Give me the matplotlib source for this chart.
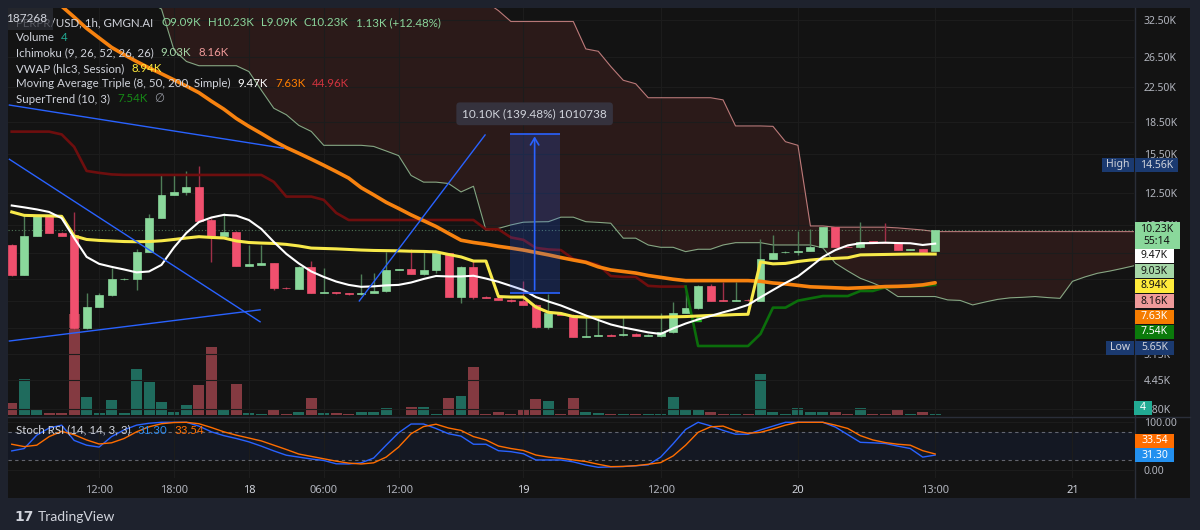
import numpy as np
import matplotlib
matplotlib.use('Agg')
import matplotlib.pyplot as plt
from matplotlib.patches import Rectangle
from matplotlib.lines import Line2D
from matplotlib.ticker import FixedLocator, NullLocator, FuncFormatter

plt.rcParams['font.family'] = ['Noto Sans', 'DejaVu Sans']

# -----------------------------
# Data (prices in K USD, one value per 1h bar)
# -----------------------------
opens = [9.40, 7.97, 9.90, 11.10, 10.06, 9.92, 5.94, 6.69, 7.13, 7.78,
         7.78, 9.06, 10.90, 12.41, 12.60, 12.94, 10.78, 9.88, 10.12, 8.37,
         8.43, 8.50, 7.42, 7.38, 8.31, 7.22, 7.24, 7.20, 7.16, 7.22,
         7.28, 8.19, 8.22, 8.00, 8.19, 8.98, 7.07, 8.33, 7.06, 7.02,
         6.95, 6.88, 6.75, 5.97, 6.47, 6.40, 5.65, 5.70, 5.72, 5.72,
         5.75, 5.69, 5.68, 5.80, 6.47, 6.63, 7.50, 6.93, 6.91, 6.94,
         6.91, 8.70, 9.02, 9.06, 9.09, 9.28, 10.37, 9.31, 9.28, 9.60,
         9.52, 9.50, 9.16, 9.19, 9.09]
highs = [9.45, 11.10, 11.12, 11.12, 10.08, 11.30, 7.20, 7.20, 8.27, 7.82,
         9.20, 11.14, 13.81, 13.94, 14.14, 14.56, 10.90, 11.20, 10.14, 9.40,
         9.40, 8.52, 7.44, 8.35, 8.60, 8.26, 7.26, 7.22, 8.00, 8.05,
         9.06, 8.24, 9.20, 9.06, 9.00, 9.00, 8.35, 8.64, 7.08, 7.04,
         6.97, 7.71, 6.77, 7.18, 6.49, 6.42, 6.34, 6.34, 5.74, 6.33,
         5.77, 5.74, 6.46, 6.85, 7.29, 7.52, 7.57, 7.68, 7.68, 6.96,
         9.70, 9.92, 9.08, 10.17, 10.25, 10.39, 10.39, 9.33, 10.66, 9.62,
         10.60, 9.52, 9.21, 9.21, 10.23]
lows = [7.90, 7.95, 9.88, 10.06, 9.88, 5.88, 5.92, 6.67, 7.10, 7.75,
        7.33, 9.05, 10.88, 12.38, 12.41, 10.75, 8.57, 9.86, 8.37, 8.35,
        8.41, 7.33, 7.38, 7.36, 7.20, 7.20, 7.18, 7.14, 7.14, 7.20,
        7.26, 8.17, 8.00, 7.98, 8.05, 7.05, 6.83, 6.98, 7.00, 6.93,
        6.86, 6.73, 5.95, 5.92, 6.38, 5.65, 5.64, 5.68, 5.68, 5.70,
        5.67, 5.67, 5.66, 5.78, 6.45, 6.61, 6.89, 6.89, 6.89, 6.90,
        6.89, 8.68, 9.00, 8.90, 9.07, 9.26, 9.29, 9.28, 9.26, 9.48,
        9.48, 9.12, 9.14, 9.04, 9.09]
closes = [7.97, 9.90, 11.10, 10.06, 9.90, 5.94, 6.69, 7.13, 7.78, 7.80,
          9.06, 10.90, 12.41, 12.60, 12.94, 10.75, 9.88, 10.12, 8.37, 8.45,
          8.50, 7.40, 7.40, 8.33, 7.22, 7.24, 7.20, 7.16, 7.22, 7.28,
          8.19, 8.22, 8.00, 8.19, 8.98, 7.07, 8.33, 7.05, 7.02, 6.95,
          6.88, 6.75, 5.97, 6.47, 6.40, 5.65, 5.70, 5.72, 5.70, 5.75,
          5.69, 5.72, 5.80, 6.47, 6.65, 7.50, 6.91, 6.91, 6.94, 6.92,
          8.70, 9.01, 9.06, 9.09, 9.31, 10.37, 9.31, 9.30, 9.57, 9.50,
          9.50, 9.14, 9.19, 9.06, 10.23]
volume = [32, 97, 14, 5, 5, 273, 49, 5, 41, 5,
          124, 89, 35, 7, 27, 81, 184, 16, 84, 5,
          4, 16, 3, 8, 46, 5, 5, 3, 7, 7,
          19, 1, 22, 22, 4, 46, 51, 130, 3, 8,
          4, 14, 43, 38, 3, 46, 7, 5, 3, 4,
          4, 3, 4, 49, 16, 16, 8, 4, 4, 3,
          111, 8, 3, 19, 8, 8, 8, 3, 19, 4,
          4, 16, 3, 8, 4]

ma8 = [11.69, 11.57, 11.44, 11.28, 10.90, 9.77, 8.80, 8.47, 8.33, 8.21,
       8.08, 8.12, 8.42, 9.27, 10.05, 10.67, 10.94, 11.10, 11.05, 10.79,
       10.27, 9.56, 8.95, 8.49, 8.12, 7.88, 7.68, 7.54, 7.46, 7.48,
       7.52, 7.54, 7.64, 7.79, 7.92, 7.90, 7.90, 7.93, 7.81, 7.67,
       7.50, 7.33, 7.05, 6.88, 6.73, 6.55, 6.37, 6.21, 6.06, 5.96,
       5.88, 5.80, 5.75, 5.93, 6.09, 6.23, 6.35, 6.48, 6.60, 6.75,
       7.04, 7.33, 7.62, 7.90, 8.33, 8.80, 9.14, 9.38, 9.49, 9.50,
       9.52, 9.50, 9.49, 9.40, 9.47]
ma50 = [44.6, 42.1, 39.6, 37.3, 35.15, 33.1, 31.1, 29.5, 28.0, 26.9,
        25.9, 25.0, 24.2, 23.4, 22.6, 21.8, 20.8, 19.9, 18.9, 18.1,
        17.4, 16.7, 16.1, 15.6, 15.1, 14.6, 14.1, 13.6, 12.9, 12.4,
        11.9, 11.5, 11.1, 10.75, 10.41, 10.02, 9.65, 9.53, 9.44, 9.33,
        9.24, 9.14, 9.02, 8.90, 8.77, 8.65, 8.54, 8.33, 8.19, 8.12,
        8.05, 7.94, 7.86, 7.78, 7.72, 7.72, 7.72, 7.72, 7.72, 7.72,
        7.69, 7.62, 7.58, 7.52, 7.46, 7.44, 7.42, 7.40, 7.42, 7.44,
        7.47, 7.48, 7.50, 7.54, 7.63]
vwap = [11.28, 11.07, 11.05, 11.04, 11.01, 9.88, 9.69, 9.64, 9.61, 9.58,
        9.57, 9.58, 9.62, 9.69, 9.77, 9.84, 9.80, 9.77, 9.61, 9.53,
        9.50, 9.48, 9.43, 9.35, 9.24, 9.22, 9.20, 9.17, 9.14, 9.12,
        9.11, 9.10, 9.08, 9.07, 9.05, 8.92, 8.80, 8.60, 8.60, 7.07,
        7.05, 7.05, 6.67, 6.48, 6.44, 6.33, 6.31, 6.31, 6.31, 6.31,
        6.31, 6.31, 6.31, 6.32, 6.33, 6.35, 6.37, 6.38, 6.40, 6.41,
        8.56, 8.47, 8.49, 8.58, 8.65, 8.70, 8.73, 8.76, 8.90, 8.91,
        8.92, 8.93, 8.94, 8.94, 8.94]
# SuperTrend: down leg for bars 0-54, up leg for bars 54-74
st_down = [17.58, 17.58, 17.58, 17.58, 17.31, 16.16, 14.15, 14.0, 13.88, 13.84,
           13.84, 13.84, 13.84, 13.84, 13.84, 13.84, 13.84, 13.84, 13.84, 13.84,
           13.84, 13.32, 12.28, 12.28, 12.28, 12.06, 11.22, 10.79, 10.79, 10.79,
           10.79, 10.79, 10.79, 10.79, 10.79, 10.79, 10.79, 10.79, 10.25, 10.25,
           9.80, 9.67, 9.25, 9.17, 9.14, 8.70, 8.58, 8.42, 7.92, 7.88,
           7.88, 7.50, 7.47, 7.47, 7.47]
st_up_start = 54
st_up = [7.47, 5.38, 5.38, 5.38, 5.38, 5.38, 5.75, 6.65, 6.65, 6.91,
         7.00, 7.09, 7.09, 7.09, 7.29, 7.29, 7.44, 7.46, 7.48, 7.50, 7.54]
st_buy = (55, 6.28)

# Ichimoku leading spans (already shifted forward), bars 11..90
cloud_start = 11
span_a = [36.0, 34.6, 27.6, 25.9, 25.3, 25.3, 25.3, 25.3, 24.5, 22.1,
          20.0, 19.3, 18.2, 17.6, 16.3, 16.3, 16.3, 16.3, 16.2, 15.8,
          15.4, 13.8, 13.3, 13.3, 13.2, 12.6, 13.0, 10.2, 10.3, 10.5,
          10.66, 10.68, 10.69, 10.96, 10.96, 10.69, 10.65, 10.6, 9.76, 9.76,
          9.40, 9.28, 9.28, 9.06, 9.18, 9.18, 9.40, 9.52, 9.52, 9.52,
          9.40, 9.40, 9.40, 9.40, 9.25, 8.50, 8.14, 7.82, 7.62, 7.40,
          7.07, 7.07, 7.07, 7.07, 6.94, 6.92, 6.75, 6.86, 6.96, 7.02,
          7.04, 7.07, 7.03, 7.00, 7.69, 7.88, 8.04, 8.14, 8.26, 8.39]
span_b = [36.0] * 28 + [
          34.3, 32.3, 32.3, 32.3, 32.3, 32.3, 32.3, 27.76, 27.4, 25.2,
          23.35, 22.9, 21.2, 21.2, 21.2, 21.2, 21.2, 21.2, 20.95, 18.14,
          18.14, 18.14, 18.1, 16.63, 16.3, 10.44, 10.44, 10.37, 10.37, 10.37,
          10.37, 10.37, 10.33, 10.27, 10.21, 10.12] + [10.12] * 16

stoch_k = [40, 45, 73, 88, 94, 62, 52, 48, 70, 84,
           94, 98, 100, 100, 100, 92, 80, 72, 66, 59,
           50, 40, 31, 27, 23, 20, 13, 12.6, 15, 25,
           52, 78, 96.4, 96.4, 87, 76, 71, 54, 54, 40.4,
           38.4, 34, 21, 21, 21, 17, 10.4, 5.6, 6.5, 7.2,
           8.9, 10.8, 27, 55, 85, 100, 92.5, 83, 75, 75,
           84, 92, 100, 100, 100, 100, 90, 74, 58, 57,
           55.5, 50, 45, 27, 31.3]
stoch_d = [54, 49, 52, 70, 81, 74, 63, 54.5, 57, 66,
           80, 90.5, 97, 99.5, 100, 97, 89, 80, 73, 67,
           61, 52, 43, 33.5, 28.5, 23.5, 18.5, 14.5, 12.6, 15,
           27, 48, 76, 91, 96, 88, 83, 70, 63, 50.3,
           45, 41, 31.4, 27, 24.5, 21, 17.7, 12, 7, 7.5,
           9, 12, 15.5, 29.5, 52, 79, 90.5, 92, 82, 77,
           79, 86, 94, 100, 100, 100, 94, 87, 72, 63,
           57.5, 54, 52, 40.5, 33.54]

# user drawings: (bar, price) anchors
trend_lines = [((-0.19, 20.36), (21.76, 16.04)),
               ((-0.19, 15.09), (19.9, 6.15)),
               ((-0.19, 5.53), (19.9, 6.57)),
               ((27.85, 6.90), (37.93, 17.26))]
measure_bars = (39.9, 43.9)
measure_prices = (7.22, 17.39)
measure_label = "10.10K (139.48%) 1010738"
measure_label_price = 19.4

price_ticks = [32.5, 26.5, 22.5, 18.5, 15.5, 12.5, 10.5, 9.0, 7.8, 6.9, 5.95, 5.15, 4.45, 3.8]
hidden_ticks = [9.0, 7.8, 6.9, 5.95]   # covered by the value labels on the scale
tick_bars = [7, 13, 19, 25, 31, 41, 52, 63, 74, 85]
tick_labels = ['12:00', '18:00', '18', '06:00', '12:00', '19', '12:00', '20', '13:00', '21']
day_labels = {'18', '19', '20', '21'}

# -----------------------------
# Figure / layout
# -----------------------------
W, H = 1200, 530
BG = '#131313'
FRAME = '#1e222d'
GRID = '#1c1c1c'
TXT = '#d1d4dc'
AXT = '#b2b5be'
UP, DOWN = '#8ad89b', '#f0506e'
LEGEND_FONT = ['Lato', 'DejaVu Sans']


def fx(x):
    return x / W


def fy(y):
    return 1 - y / H


fig = plt.figure(figsize=(W / 100, H / 100), dpi=100, facecolor=FRAME)
fig.add_artist(Rectangle((fx(8), fy(498)), (1190 - 8) / W, (498 - 8) / H,
                         transform=fig.transFigure, facecolor=BG, edgecolor='none', zorder=-5))

bars = np.arange(len(closes))
o, h, l, c = map(np.array, (opens, highs, lows, closes))
up = c >= o
XLIM = (-0.3, 89.93)
main_rect = [fx(8), fy(415), 1126 / W, 407 / H]

# volume (own axis behind price pane)
axv = fig.add_axes(main_rect, zorder=0)
axv.axis('off')
axv.set_xlim(*XLIM)
axv.set_ylim(0, 1100)
axv.bar(bars, volume, width=0.88, color=np.where(up, '#1f6b5d', '#843a41'), lw=0)

ax = fig.add_axes(main_rect, zorder=1)
ax.patch.set_visible(False)
for s in ax.spines.values():
    s.set_visible(False)
ax.set_yscale('log')
ax.set_xlim(*XLIM)
ax.set_ylim(3.675, 34.8)
ax.yaxis.set_major_locator(FixedLocator(price_ticks))
ax.yaxis.set_minor_locator(NullLocator())
ax.yaxis.set_major_formatter(FuncFormatter(lambda v, p: '' if v in hidden_ticks else f'{v:.2f}K'))
ax.yaxis.tick_right()
ax.tick_params(axis='y', which='both', length=0, pad=7, labelsize=7.5, labelcolor=AXT)
ax.xaxis.set_major_locator(FixedLocator(tick_bars))
ax.tick_params(axis='x', length=0, labelbottom=False)
ax.grid(True, color=GRID, lw=0.8)

# Ichimoku cloud
cb = np.arange(cloud_start, cloud_start + len(span_a))
ax.fill_between(cb, span_a, span_b, color='#ef5350', alpha=0.11, lw=0, zorder=1)
ax.plot(cb, span_a, color='#a5d6a7', lw=0.8, alpha=0.75, zorder=2)
ax.plot(cb, span_b, color='#ef9a9a', lw=0.8, alpha=0.75, zorder=2)

# current price line
ax.axhline(closes[-1], color=UP, lw=0.8, ls=(0, (1, 2)), alpha=0.5, zorder=2)

# candles
ax.vlines(bars, l, h, colors=np.where(up, '#4f7d57', '#a03048'), lw=1, zorder=3)
ax.bar(bars, np.abs(c - o), bottom=np.minimum(o, c), width=0.64,
       color=np.where(up, UP, DOWN), edgecolor=np.where(up, UP, DOWN), lw=0.5, zorder=4)

# indicators
ax.plot(bars[:len(st_down)], st_down, color='#6e0e0e', lw=1.9, zorder=5)
ax.plot(np.arange(st_up_start, st_up_start + len(st_up)), st_up, color='#0b6e0b', lw=1.9, zorder=5)
ax.plot(*st_buy, marker='^', ms=5, color='#1fae1f', zorder=6)
ax.plot(bars, ma50, color='#f7820f', lw=2.6, zorder=6, solid_capstyle='round')
ax.plot(bars, vwap, color='#f7e94a', lw=2.2, zorder=6)
ax.plot(bars, ma8, color='#ffffff', lw=1.5, zorder=7)

for (b0, p0), (b1, p1) in trend_lines:
    ax.plot([b0, b1], [p0, p1], color='#2962ff', lw=1.0, zorder=7)

# price range measure
mb0, mb1 = measure_bars
mp0, mp1 = measure_prices
mid = (mb0 + mb1) / 2
ax.fill_between([mb0, mb1], mp0, mp1, color='#2962ff', alpha=0.2, lw=0, zorder=7)
ax.hlines([mp0, mp1], mb0, mb1, color='#2962ff', lw=1.2, zorder=8)
ax.annotate('', xy=(mid, mp1), xytext=(mid, mp0),
            arrowprops=dict(arrowstyle='->,head_length=0.5,head_width=0.3', color='#2962ff', lw=1.2),
            zorder=8)
ax.text(mid, measure_label_price, measure_label, ha='center', va='center', fontsize=8.5, color=TXT,
        family=LEGEND_FONT,
        bbox=dict(boxstyle='round,pad=0.5,rounding_size=0.3', fc='#35323d', ec='none'), zorder=9)

# -----------------------------
# Stoch RSI pane
# -----------------------------
axs = fig.add_axes([fx(8), fy(478), 1126 / W, 61 / H])
axs.patch.set_visible(False)
for s in axs.spines.values():
    s.set_visible(False)
axs.set_xlim(*XLIM)
axs.set_ylim(-16.8, 111.1)
axs.axhspan(20, 80, color='#2962ff', alpha=0.07, lw=0)
for lvl in (80, 20):
    axs.axhline(lvl, color='#787b86', lw=0.8, ls=(0, (3, 3)), alpha=0.8)
axs.plot(bars, stoch_k, color='#2962ff', lw=1.0)
axs.plot(bars, stoch_d, color='#ff6d00', lw=1.0)
axs.set_yticks([0, 100])
axs.set_yticklabels(['0.00', '100.00'])
axs.yaxis.tick_right()
axs.tick_params(axis='y', length=0, pad=7, labelsize=7.5, labelcolor=AXT)
axs.set_xticks(tick_bars)
axs.set_xticklabels(tick_labels)
axs.tick_params(axis='x', length=0, pad=5, labelsize=8, labelcolor=AXT)
for t in axs.get_xticklabels():
    if t.get_text() in day_labels:
        t.set_fontweight('bold')
        t.set_color(TXT)
axs.grid(True, color=GRID, lw=0.8)

# separators
fig.add_artist(Line2D([fx(8), fx(1190)], [fy(416.5)] * 2, color='#2a2e39', lw=1))
fig.add_artist(Line2D([fx(1134.5)] * 2, [fy(8), fy(498)], color='#2a2e39', lw=1))

# -----------------------------
# Price scale labels
# -----------------------------
def box(x0, x1, yc, text, bg, fg, h=14, size=7.5):
    fig.add_artist(Rectangle((fx(x0), fy(yc + h / 2)), (x1 - x0) / W, h / H, transform=fig.transFigure,
                             facecolor=bg, edgecolor='none', zorder=5))
    fig.text(fx((x0 + x1) / 2), fy(yc), text, color=fg, ha='center', va='center', fontsize=size, zorder=6)


NAVY = '#1b3a70'
box(1102, 1134, 165, 'High', NAVY, TXT)
box(1135, 1178, 165, '14.56K', NAVY, TXT)
fig.add_artist(Rectangle((fx(1135), fy(249)), 45 / W, 27 / H, transform=fig.transFigure,
                         facecolor=UP, edgecolor='none', zorder=5))
fig.text(fx(1157), fy(229), '10.23K', color='#131313', ha='center', va='center', fontsize=7.5, zorder=6)
fig.text(fx(1157), fy(242), '55:14', color='#131313', ha='center', va='center', fontsize=7.5, zorder=6)
box(1135, 1174, 256, '9.47K', '#ffffff', '#131313')
box(1135, 1174, 271, '9.03K', '#a5d6a7', '#131313')
box(1135, 1174, 286, '8.94K', '#ffeb3b', '#131313')
box(1135, 1174, 301, '8.16K', '#ef9a9a', '#131313')
box(1135, 1174, 316.5, '7.63K', '#f57c00', '#ffffff')
box(1135, 1174, 332, '7.54K', '#0b7a0b', '#ffffff')
box(1106, 1134, 347.5, 'Low', NAVY, TXT)
box(1135, 1174, 347.5, '5.65K', NAVY, TXT)
box(1134, 1152, 408, '4', '#22ab94', '#ffffff')
box(1135, 1174, 440.7, '33.54', '#ff6d00', '#ffffff')
box(1135, 1174, 455, '31.30', '#2390ef', '#ffffff')

# -----------------------------
# Legends
# -----------------------------
renderer = fig.canvas.get_renderer()


def legend_row(y, parts, x=16, size=8.3):
    for text, color, gap in parts:
        t = fig.text(fx(x), fy(y), text, color=color, ha='left', va='center', fontsize=size,
                     family=LEGEND_FONT, zorder=10)
        x = t.get_window_extent(renderer).x1 + gap


G = '#8bd59b'
legend_row(22.7, [('PERPR/USD, 1h, GMGN.AI', TXT, 8), ('O9.09K', G, 7), ('H10.23K', G, 7),
                  ('L9.09K', G, 7), ('C10.23K', G, 7), ('1.13K (+12.48%)', G, 0)])
legend_row(37.7, [('Volume', TXT, 6), ('4', '#22ab94', 0)])
legend_row(52.7, [('Ichimoku (9, 26, 52, 26, 26)', TXT, 7), ('9.03K', '#a5d6a7', 7), ('8.16K', '#ef9a9a', 0)])
legend_row(68.3, [('VWAP (hlc3, Session)', TXT, 7), ('8.94K', '#ffeb3b', 0)])
legend_row(83.7, [('Moving Average Triple (8, 50, 200, Simple)', TXT, 7), ('9.47K', '#ffffff', 7),
                  ('7.63K', '#ff8000', 7), ('44.96K', '#d0343f', 0)])
legend_row(99, [('SuperTrend (10, 3)', TXT, 7), ('7.54K', '#168a16', 7), ('\u2205', '#9598a1', 0)])
legend_row(430, [('Stoch RSI (14, 14, 3, 3)', TXT, 7), ('31.30', '#2a8bf2', 7), ('33.54', '#ff6d00', 0)])

# symbol id badge over the first row
fig.add_artist(Rectangle((fx(8), fy(30)), 45 / W, 22 / H, transform=fig.transFigure,
                         facecolor='#2b2d35', alpha=0.75, edgecolor='none', zorder=11))
fig.text(fx(27), fy(18.5), '187268', color=TXT, ha='center', va='center', fontsize=8.5,
         family=LEGEND_FONT, zorder=12)

# watermark
fig.text(fx(14), fy(517), '17', color=TXT, ha='left', va='center', fontsize=10,
         fontweight='bold', family='DejaVu Sans')
fig.text(fx(38), fy(517), 'TradingView', color=TXT, ha='left', va='center', fontsize=10,
         family=LEGEND_FONT)

fig.savefig('out.png', dpi=100, facecolor=FRAME)
